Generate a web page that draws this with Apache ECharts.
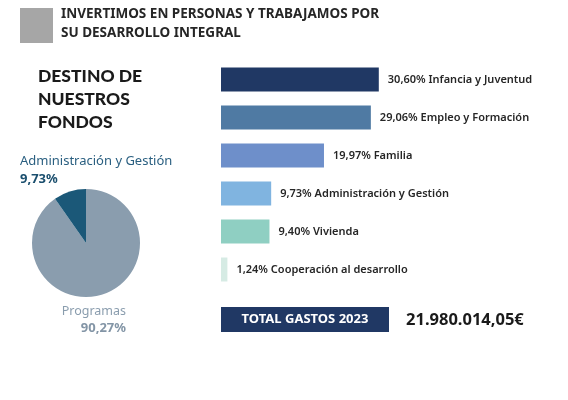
<!DOCTYPE html>
<html><head><meta charset="utf-8">
<script src="https://cdn.jsdelivr.net/npm/echarts@6/dist/echarts.min.js"></script>
<style>html,body{margin:0;padding:0;background:#fff}#c{width:568px;height:400px}</style>
</head><body><div id="c"></div>
<script>
const titleLines = ['INVERTIMOS EN PERSONAS Y TRABAJAMOS POR', 'SU DESARROLLO INTEGRAL'];
const subtitleLines = ['DESTINO DE', 'NUESTROS', 'FONDOS'];
const categories = ['Infancia y Juventud', 'Empleo y Formación', 'Familia', 'Administración y Gestión', 'Vivienda', 'Cooperación al desarrollo'];
const percentages = [30.60, 29.06, 19.97, 9.73, 9.40, 1.24];
const barColors = ['#203864', '#4f7aa3', '#6e8fca', '#80b4e0', '#8fcfc2', '#d6ebe4'];
const pieNames = ['Programas', 'Administración y Gestión'];
const pieValues = [90.27, 9.73];
const pieColors = ['#8a9dae', '#1b5878'];
const totalLabel = 'TOTAL GASTOS 2023';
const totalValue = '21.980.014,05€';

const fmt = v => v.toFixed(2).replace('.', ',') + '%';
const F = '"Noto Sans", "Open Sans", sans-serif';
const H = '900 17.5px Lato, "DejaVu Sans", sans-serif';

const chart = echarts.init(document.getElementById('c'), null, {renderer: 'canvas'});
chart.setOption({
  backgroundColor: '#ffffff',
  animation: false,
  grid: {left: 221, top: 60.5, width: 296, height: 228, containLabel: false},
  xAxis: {type: 'value', min: 0, max: 57.4, show: false},
  yAxis: {type: 'category', data: categories, inverse: true, show: false},
  series: [
    {
      type: 'bar',
      barWidth: 24,
      data: percentages.map((v, i) => ({value: v, itemStyle: {color: barColors[i]}})),
      label: {
        show: true, position: 'right', distance: 9,
        fontFamily: F, fontSize: 11, fontWeight: 600, color: '#262626',
        formatter: p => fmt(p.value) + ' ' + p.name
      }
    },
    {
      type: 'pie',
      center: [86, 243],
      radius: 54,
      startAngle: 90,
      clockwise: true,
      label: {show: false},
      labelLine: {show: false},
      silent: true,
      data: pieValues.map((v, i) => ({name: pieNames[i], value: v, itemStyle: {color: pieColors[i]}}))
    }
  ],
  graphic: [
    {type: 'rect', shape: {x: 20, y: 8, width: 33, height: 35}, style: {fill: '#a6a6a6'}},
    {type: 'text', left: 61, top: 7, style: {text: titleLines[0], font: 'bold 13.5px ' + F, fill: '#262626'}},
    {type: 'text', left: 61, top: 26, style: {text: titleLines[1], font: 'bold 13.5px ' + F, fill: '#262626'}},
    {type: 'text', left: 38, top: 67, style: {text: subtitleLines[0], font: H, fill: '#1a1a1a'}},
    {type: 'text', left: 38, top: 90, style: {text: subtitleLines[1], font: H, fill: '#1a1a1a'}},
    {type: 'text', left: 38, top: 113, style: {text: subtitleLines[2], font: H, fill: '#1a1a1a'}},
    {type: 'text', left: 20, top: 155, style: {text: pieNames[1], font: '13px ' + F, fill: '#2a5f80'}},
    {type: 'text', left: 20, top: 173, style: {text: fmt(pieValues[1]), font: 'bold 13px ' + F, fill: '#1b4f6e'}},
    {type: 'text', x: 126, y: 305, style: {text: pieNames[0], font: '12.5px ' + F, fill: '#8a9dae', align: 'right'}},
    {type: 'text', x: 126, y: 322, style: {text: fmt(pieValues[0]), font: 'bold 13px ' + F, fill: '#8395a6', align: 'right'}},
    {type: 'rect', shape: {x: 221, y: 307, width: 168, height: 25}, style: {fill: '#203864'}},
    {type: 'text', x: 305, y: 319.5, style: {text: totalLabel, font: 'bold 13px ' + F, fill: '#ffffff', align: 'center', verticalAlign: 'middle'}},
    {type: 'text', x: 406, y: 320, style: {text: totalValue, font: 'bold 16.5px ' + F, fill: '#1a1a1a', verticalAlign: 'middle'}}
  ]
});
</script></body></html>
